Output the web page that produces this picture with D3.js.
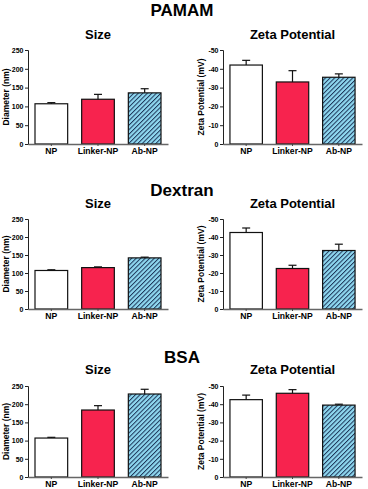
<!DOCTYPE html>
<html><head><meta charset="utf-8">
<script src="https://cdn.jsdelivr.net/npm/d3@7"></script>
<style>body{margin:0;background:#fff}svg{display:block}text{font-family:"Liberation Sans",Arial,sans-serif;font-weight:bold;fill:#000}</style>
</head><body>
<script>
const categories = ["NP", "Linker-NP", "Ab-NP"];
const groupTitles = ["PAMAM", "Dextran", "BSA"];
const sizeTicks = [0, 50, 100, 150, 200, 250];
const zetaTicks = [0, -10, -20, -30, -40, -50];

const pamamSize = [107, 119, 136];
const pamamSizeErr = [3, 13, 11];
const pamamZeta = [-42, -33, -35.5];
const pamamZetaErr = [2.5, 6, 1.8];

const dextranSize = [107, 115, 142];
const dextranSizeErr = [2, 2, 2];
const dextranZeta = [-42.5, -22.5, -32.5];
const dextranZetaErr = [2.5, 1.8, 3.5];

const bsaSize = [107, 184, 228];
const bsaSizeErr = [2, 12, 13];
const bsaZeta = [-42.5, -46, -39.5];
const bsaZetaErr = [2.5, 2, 0.5];

const W = 368, H = 489;
const svg = d3.select("body").append("svg").attr("width", W).attr("height", H);

const defs = svg.append("defs");
const pat = defs.append("pattern").attr("id", "hatch").attr("patternUnits", "userSpaceOnUse")
  .attr("width", 3.2).attr("height", 3.2).attr("patternTransform", "rotate(45)");
pat.append("rect").attr("width", 3.2).attr("height", 3.2).attr("fill", "#8fd8f0");
pat.append("rect").attr("width", 1.0).attr("height", 3.2).attr("fill", "#1d3558");

const fills = ["#ffffff", "#f7234e", "url(#hatch)"];

const rows = [
  {title: groupTitles[0], titleY: 16, subY: 39, top: 50, bottom: 144, size: pamamSize, sizeErr: pamamSizeErr, zeta: pamamZeta, zetaErr: pamamZetaErr},
  {title: groupTitles[1], titleY: 196, subY: 208, top: 219, bottom: 309, size: dextranSize, sizeErr: dextranSizeErr, zeta: dextranZeta, zetaErr: dextranZetaErr},
  {title: groupTitles[2], titleY: 363, subY: 374, top: 386, bottom: 477, size: bsaSize, sizeErr: bsaSizeErr, zeta: bsaZeta, zetaErr: bsaZetaErr}
];

function panel(x0, x1, top, bottom, subY, subTitle, yTitle, vals, errs, domain, ticks, fmt) {
  const g = svg.append("g");
  const x = d3.scaleBand().domain(categories).range([x0, x1]).paddingInner(0.3).paddingOuter(0.15);
  const y = d3.scaleLinear().domain(domain).range([bottom, top]);

  g.append("text").attr("x", (x0 + x1) / 2).attr("y", subY).attr("text-anchor", "middle")
    .attr("font-size", 13).text(subTitle);

  g.append("text").attr("transform", `translate(${x0 - 19},${(top + bottom) / 2}) rotate(-90)`)
    .attr("text-anchor", "middle").attr("font-size", 8.5).text(yTitle);

  const bars = g.selectAll(".bar").data(categories).enter();
  bars.append("rect")
    .attr("x", d => x(d)).attr("width", x.bandwidth())
    .attr("y", (d, i) => y(vals[i])).attr("height", (d, i) => bottom - y(vals[i]))
    .attr("fill", (d, i) => fills[i]).attr("stroke", "#111").attr("stroke-width", 1.2);

  categories.forEach((c, i) => {
    const cx = x(c) + x.bandwidth() / 2;
    const v = vals[i];
    const e = v < 0 ? v - errs[i] : v + errs[i];
    g.append("line").attr("x1", cx).attr("x2", cx).attr("y1", y(v)).attr("y2", y(e))
      .attr("stroke", "#111").attr("stroke-width", 1.2);
    g.append("line").attr("x1", cx - 4).attr("x2", cx + 4).attr("y1", y(e)).attr("y2", y(e))
      .attr("stroke", "#111").attr("stroke-width", 1.2);
  });

  const ya = g.append("g").attr("transform", `translate(${x0},0)`)
    .call(d3.axisLeft(y).tickValues(ticks).tickFormat(fmt).tickSize(3).tickPadding(1.5));
  ya.select(".domain").attr("stroke", "#222").attr("stroke-width", 1);
  ya.selectAll(".tick line").attr("stroke", "#222");
  ya.selectAll("text").attr("font-size", 7).attr("font-family", '"Liberation Sans",Arial,sans-serif').attr("font-weight", "bold").attr("fill", "#000");

  const xa = g.append("g").attr("transform", `translate(0,${bottom})`)
    .call(d3.axisBottom(x).tickSize(2).tickPadding(1.5).tickSizeOuter(0));
  xa.select(".domain").attr("stroke", "#666").attr("stroke-width", 1.6);
  xa.selectAll(".tick line").attr("stroke", "#444");
  xa.selectAll("text").attr("font-size", 8.6).attr("font-family", '"Liberation Sans",Arial,sans-serif').attr("font-weight", "bold").attr("fill", "#000");
}

rows.forEach(r => {
  svg.append("text").attr("x", 182).attr("y", r.titleY).attr("text-anchor", "middle")
    .attr("font-size", 17).text(r.title);
  panel(28, 168, r.top, r.bottom, r.subY, "Size", "Diameter (nm)", r.size, r.sizeErr, [0, 250], sizeTicks, d3.format("d"));
  panel(223, 362, r.top, r.bottom, r.subY, "Zeta Potential", "Zeta Potential (mV)", r.zeta, r.zetaErr, [0, -50], zetaTicks, d => d === 0 ? "0" : "-" + Math.abs(d));
});
</script>
</body></html>
